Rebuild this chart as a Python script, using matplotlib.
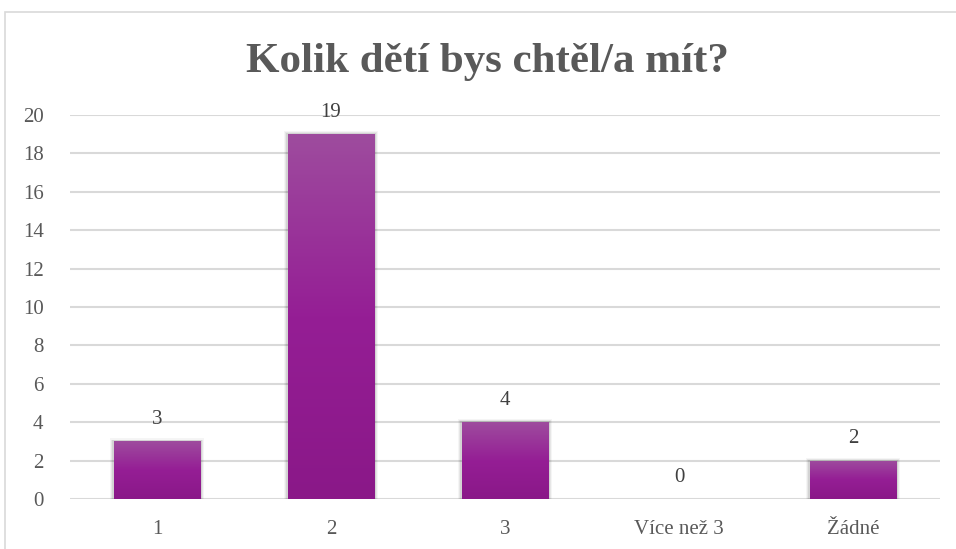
import matplotlib
matplotlib.use("Agg")
import matplotlib.pyplot as plt
from matplotlib.patches import Rectangle
from matplotlib.colors import LinearSegmentedColormap
import numpy as np

kategorie = ["1", "2", "3", "Více než 3", "Žádné"]
hodnoty = [3, 19, 4, 0, 2]
yticks = [0, 2, 4, 6, 8, 10, 12, 14, 16, 18, 20]

plt.rcParams['font.family'] = ['Liberation Serif', 'DejaVu Serif']

fig = plt.figure(figsize=(9.56, 5.49), dpi=100)
ax = fig.add_axes([70/956, 1 - 499/549, 870/956, 384/549])

# outer chart frame
fig.patches.append(Rectangle((5/956, -0.05), 1.0, 1 - 12/549 + 0.05,
                             transform=fig.transFigure, fill=False,
                             edgecolor="#d9d9d9", linewidth=1.2))

x = np.arange(len(kategorie))
bary = ax.bar(x, hodnoty, width=0.5, color="none", edgecolor="none", zorder=3)

cmap = LinearSegmentedColormap.from_list("fial", ["#8a1888", "#951e95", "#9e4c9e"])
grad = np.linspace(0, 1, 256).reshape(-1, 1)
for b in bary:
    h = b.get_height()
    if h <= 0:
        continue
    x0 = b.get_x()
    w = b.get_width()
    # stin
    for k, a in [(0.02, 0.04), (0.012, 0.06), (0.006, 0.08)]:
        ax.add_patch(Rectangle((x0 - k, -0.05), w + 2 * k, h + 0.05 + k * 8,
                               facecolor="#000000", alpha=a, edgecolor="none", zorder=2))
    im = ax.imshow(grad, cmap=cmap, extent=(x0, x0 + w, 0, h), origin="lower",
                   aspect="auto", zorder=3, interpolation="bicubic")
    im.set_clip_path(b)

for xi, v in zip(x, hodnoty):
    ax.text(xi, v + 0.65, str(v), ha="center", va="bottom", fontsize=15, color="#404040")

ax.set_xlim(-0.5, len(kategorie) - 0.5)
ax.set_ylim(0, 20)
ax.set_yticks(yticks)
ax.set_xticks(x)
ax.set_xticklabels(kategorie)
ax.tick_params(axis="both", length=0, labelsize=15, colors="#595959")
ax.tick_params(axis="y", pad=19)
ax.tick_params(axis="x", pad=15)
ax.grid(axis="y", color="#d9d9d9", linewidth=1.5, zorder=0)
ax.set_axisbelow(True)
for s in ax.spines.values():
    s.set_visible(False)

fig.text(487/956, 1 - 62/549, "Kolik dětí bys chtěl/a mít?", ha="center", va="center",
         fontsize=31, fontweight="bold", color="#595959")

fig.savefig("out.png", dpi=100)
